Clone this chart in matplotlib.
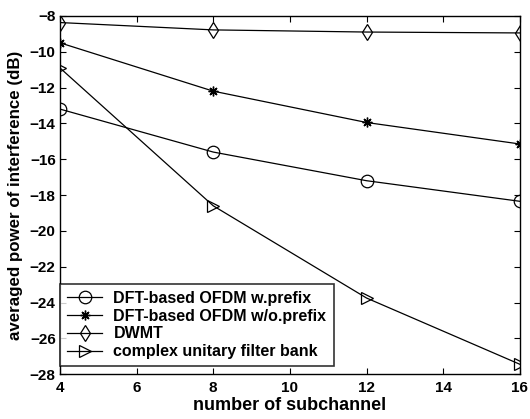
import matplotlib
matplotlib.use('Agg')
import matplotlib.pyplot as plt

plt.rcParams['font.family'] = ['Liberation Sans', 'DejaVu Sans']

# number of subchannels
subchannels = [4, 8, 12, 16]

# averaged interference power (dB)
dft_prefix = [-13.2, -15.6, -17.2, -18.35]
dft_noprefix = [-9.5, -12.2, -13.95, -15.15]
dwmt = [-8.37, -8.78, -8.9, -8.95]
cufb = [-10.9, -18.6, -23.75, -27.45]

labels = ['DFT-based OFDM w.prefix', 'DFT-based OFDM w/o.prefix',
          'DWMT', 'complex unitary filter bank']

xticks = [4, 6, 8, 10, 12, 14, 16]
yticks = [-28, -26, -24, -22, -20, -18, -16, -14, -12, -10, -8]

fig = plt.figure(figsize=(5.3, 4.19), dpi=100)
ax = fig.add_axes([0.113, 0.107, 0.868, 0.855])

lw = 0.9
ax.plot(subchannels, dft_prefix, color='black', lw=lw, marker='o', ms=9,
        mfc='none', mec='black', mew=0.9, label=labels[0])
ax.plot(subchannels, dft_noprefix, color='black', lw=lw, marker=(8, 2, 0), ms=7,
        mfc='black', mec='black', mew=1.0, label=labels[1])
ax.plot(subchannels, dwmt, color='black', lw=lw, marker='d', ms=8,
        mfc='none', mec='black', mew=0.9, label=labels[2])
ax.plot(subchannels, cufb, color='black', lw=lw, marker='>', ms=9,
        mfc='none', mec='black', mew=0.9, label=labels[3])

ax.set_xlim(4, 16)
ax.set_ylim(-28, -8)
ax.set_xticks(xticks)
ax.set_yticks(yticks)
ax.tick_params(direction='in', top=True, right=True, labelsize=11, length=4,
               pad=5)
ax.tick_params(axis='y', pad=3)
for t in ax.get_xticklabels() + ax.get_yticklabels():
    t.set_fontweight('bold')
for s in ax.spines.values():
    s.set_linewidth(1.0)

ax.set_xlabel('number of subchannel', fontsize=13, fontweight='bold',
              labelpad=1)
ax.set_ylabel('averaged power of interference (dB)', fontsize=12.2,
              fontweight='bold', labelpad=5)

leg = ax.legend(loc='lower left', bbox_to_anchor=(0, 0.022),
                prop={'size': 11.5, 'weight': 'bold'}, frameon=True,
                fancybox=False, edgecolor='black', borderaxespad=0,
                labelspacing=0.17, handlelength=2.2, handletextpad=0.7,
                borderpad=0.45)
leg.get_frame().set_linewidth(1.2)

fig.savefig('out.png', dpi=100)
